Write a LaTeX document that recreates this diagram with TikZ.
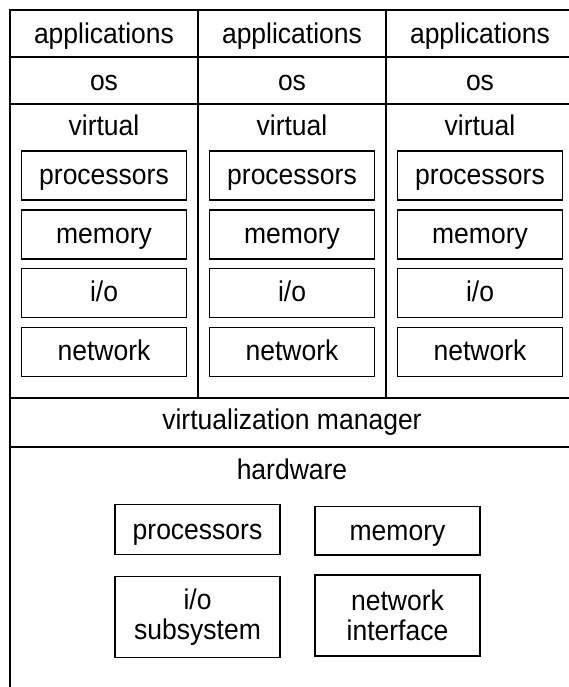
\documentclass[tikz,border=0pt]{standalone}
\usepackage{fontspec}
\setmainfont{Liberation Sans}[FakeStretch=0.93]
\begin{document}
\begin{tikzpicture}[x=1pt, y=-1pt,
  every node/.style={font=\fontsize{28.5}{30}\selectfont, inner sep=0pt, outer sep=0pt},
  cell/.style={draw, line width=2pt, minimum width=188pt},
  wide/.style={draw, line width=2pt, minimum width=564pt},
  hi/.style={text height=25.5pt, text depth=6.5pt},
  mid/.style={text height=24pt, text depth=6.4pt},
  lo/.style={text height=20.5pt, text depth=6.5pt},
  part/.style={draw, line width=1.4pt, minimum width=165pt, minimum height=49pt, mid},
  hwpart/.style={draw, line width=1.4pt, minimum width=165pt},
  hwone/.style={hwpart, text height=26.5pt, text depth=6.5pt},
  hwtwo/.style={hwpart, align=center, minimum height=81pt}]
  \useasboundingbox (0,0) rectangle (569,687);
  \clip (0,0) rectangle (569,687);

  % one virtual machine per column
  \foreach \i/\x in {1/104, 2/292, 3/480} {
    \node[cell, hi, minimum height=47.5pt] (app\i) at (\x,33.75) {applications};
    \node[cell, hi, minimum height=47pt] (os\i) at (\x,81) {os};
    \node[cell, minimum height=293.5pt] (vm\i) at (\x,251.25) {};
    \node[anchor=base] (vt\i) at (\x,136) {virtual};
    \node[part] (vp\i) at (\x,175.5) {processors};
    \node[part] (vmem\i) at (\x,234.35) {memory};
    \node[part] (vio\i) at (\x,293) {i/o};
    \node[part] (vnet\i) at (\x,352) {network};
  }

  % shared layers
  \node[wide, lo, minimum height=48.7pt] (mgr) at (292,422.35) {virtualization manager};
  \node[wide, minimum height=263.3pt] (hw) at (292,578.35) {};
  \node[anchor=base] (hwt) at (292,479) {hardware};

  % physical resources
  \node[hwone, minimum height=50pt] (hproc) at (197.5,529.3) {processors};
  \node[hwone, minimum height=48.3pt] (hmem) at (397.5,530.9) {memory};
  \node[hwtwo] (hio) at (197.5,617.2) {i/o\\subsystem};
  \node[hwtwo] (hnet) at (397.5,615.5) {network\\interface};
\end{tikzpicture}
\end{document}
